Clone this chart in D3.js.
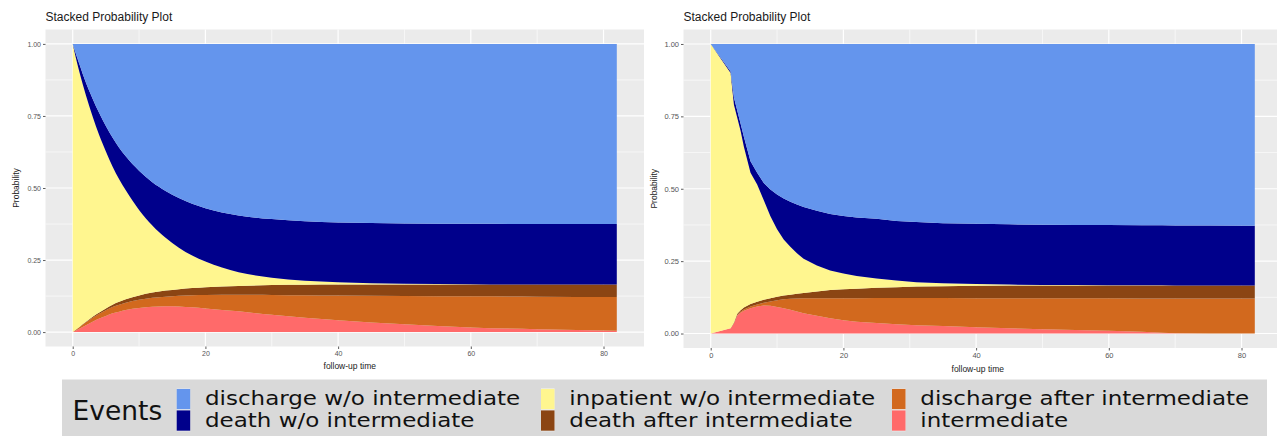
<!DOCTYPE html>
<html><head><meta charset="utf-8">
<script src="https://cdn.jsdelivr.net/npm/d3@7"></script>
<style>body{margin:0;background:#fff;} svg{display:block;}</style>
</head><body>
<svg id="chart" width="1277" height="436"></svg>
<script>
// ---- categories / styles ----
const stateKeys = ["intermediate","dischargeAfter","deathAfter","inpatient","deathWo","dischargeWo"];
const stateColors = ["#FF6A6A","#D2691E","#8B4513","#FFF68F","#00008B","#6495ED"];
const legendLabels = ["discharge w/o intermediate","death w/o intermediate","inpatient w/o intermediate","death after intermediate","discharge after intermediate","intermediate"];
const legendKeys = ["dischargeWo","deathWo","inpatient","deathAfter","dischargeAfter","intermediate"];
const xTickValues = [0,20,40,60,80];
const xMinorValues = [10,30,50,70];
const yTickValues = [0,0.25,0.5,0.75,1];
const yTickLabels = ["0.00","0.25","0.50","0.75","1.00"];
const yMinorValues = [0.125,0.375,0.625,0.875];
const panelTitle = "Stacked Probability Plot";
const xTitle = "follow-up time";
const yTitle = "Probability";
const legendTitle = "Events";

// ---- left panel (smooth model) ----
const leftTime           = [0,1,2,3,4,5,6,7,8,10,12,14,16,18,20,25,30,35,40,50,60,70,82];
const leftIntermediate   = [0,.012,.024,.036,.047,.056,.065,.071,.077,.084,.088,.09,.089,.086,.082,.072,.06,.05,.041,.027,.016,.01,.005];
const leftDischargeAfter = [0,.005,.010,.014,.017,.020,.022,.024,.025,.028,.031,.033,.037,.042,.047,.058,.069,.078,.086,.098,.108,.113,.117];
const leftDeathAfter     = [0,.001,.002,.003,.004,.006,.008,.010,.012,.015,.018,.021,.023,.025,.027,.030,.034,.036,.038,.040,.041,.042,.043];
const leftInpatient      = [1,.885,.785,.695,.615,.545,.48,.425,.378,.297,.233,.183,.144,.113,.089,.048,.026,.014,.008,.003,.001,0,0];
const leftDeathWo        = [0,.027,.044,.062,.077,.088,.1,.11,.118,.136,.15,.163,.172,.179,.185,.197,.203,.207,.207,.209,.21,.21,.21];
const leftDischargeWo    = [0,.07,.135,.19,.24,.285,.325,.36,.39,.44,.48,.51,.535,.555,.57,.595,.608,.615,.62,.623,.624,.625,.625];

// ---- right panel (empirical) ----
const rightTime           = [0,3,3.5,4,4.5,5,6,7,8,9,10,11,12,13,14,16,18,20,22,25,28,31,35,40,45,50,55,60,65,68,70,75,82];
const rightIntermediate   = [0,.018,.035,.062,.072,.079,.087,.093,.097,.096,.092,.087,.082,.076,.07,.061,.053,.046,.041,.036,.032,.029,.026,.022,.018,.015,.012,.01,.006,.003,.001,0,0];
const rightDischargeAfter = [0,0,.001,.002,.003,.004,.006,.007,.009,.015,.023,.031,.038,.045,.052,.061,.069,.076,.081,.087,.091,.094,.097,.1,.104,.107,.11,.112,.115,.118,.12,.121,.121];
const rightDeathAfter     = [0,0,.002,.004,.005,.007,.009,.01,.011,.011,.012,.013,.014,.016,.018,.023,.028,.031,.033,.035,.037,.039,.04,.043,.044,.044,.044,.044,.045,.045,.045,.045,.045];
const rightInpatient      = [1,.882,.752,.677,.62,.555,.453,.405,.343,.283,.233,.194,.166,.14,.118,.09,.068,.054,.044,.032,.023,.015,.011,.006,.003,.002,.002,.001,.001,.001,0,0,0];
const rightDeathWo        = [0,.005,.025,.025,.025,.035,.04,.04,.06,.092,.12,.141,.155,.169,.179,.189,.195,.199,.202,.206,.206,.208,.207,.208,.208,.208,.207,.208,.207,.207,.207,.207,.206];
const rightDischargeWo    = [0,.095,.185,.23,.275,.32,.405,.445,.48,.503,.52,.534,.545,.554,.563,.576,.587,.594,.599,.604,.611,.615,.619,.621,.623,.624,.625,.625,.626,.626,.627,.627,.628];

function buildRows(time, arrs){
  return time.map((t,i)=>{
    const r={t};
    stateKeys.forEach((k,j)=>{ r[k]=arrs[j][i]; });
    return r;
  });
}
const leftRows = buildRows(leftTime,[leftIntermediate,leftDischargeAfter,leftDeathAfter,leftInpatient,leftDeathWo,leftDischargeWo]);
const rightRows = buildRows(rightTime,[rightIntermediate,rightDischargeAfter,rightDeathAfter,rightInpatient,rightDeathWo,rightDischargeWo]);
const colorOf = d3.scaleOrdinal().domain(stateKeys).range(stateColors);

const svg = d3.select("#chart");
const FONT = "'Liberation Sans', Arial, sans-serif";

function drawPanel(o){
  const g = svg.append("g");
  const xMax = d3.max(o.rows, d=>d.t);
  const x = d3.scaleLinear().domain([-0.05*xMax, 1.05*xMax]).range([o.pL, o.pR]);
  const y = d3.scaleLinear().domain([-0.05, 1.05]).range([o.pB, o.pT]);
  g.append("rect").attr("x",o.pL).attr("y",o.pT).attr("width",o.pR-o.pL).attr("height",o.pB-o.pT).attr("fill","#EBEBEB");
  const grid = g.append("g");
  grid.selectAll(".xm").data(xMinorValues).join("line").attr("class","xm")
    .attr("x1",d=>x(d)).attr("x2",d=>x(d)).attr("y1",o.pT).attr("y2",o.pB).attr("stroke","#fff").attr("stroke-width",0.6);
  grid.selectAll(".ym").data(yMinorValues).join("line").attr("class","ym")
    .attr("x1",o.pL).attr("x2",o.pR).attr("y1",d=>y(d)).attr("y2",d=>y(d)).attr("stroke","#fff").attr("stroke-width",0.6);
  grid.selectAll(".xM").data(xTickValues).join("line").attr("class","xM")
    .attr("x1",d=>x(d)).attr("x2",d=>x(d)).attr("y1",o.pT).attr("y2",o.pB).attr("stroke","#fff").attr("stroke-width",1.2);
  grid.selectAll(".yM").data(yTickValues).join("line").attr("class","yM")
    .attr("x1",o.pL).attr("x2",o.pR).attr("y1",d=>y(d)).attr("y2",d=>y(d)).attr("stroke","#fff").attr("stroke-width",1.2);
  const series = d3.stack().keys(stateKeys)(o.rows);
  const area = d3.area().x(d=>x(d.data.t)).y0(d=>y(d[0])).y1(d=>y(d[1])).curve(o.curve);
  g.append("g").selectAll("path").data(series).join("path")
    .attr("d",area).attr("fill",d=>colorOf(d.key));
  const ax = g.append("g").attr("transform",`translate(0,${o.pB})`)
    .call(d3.axisBottom(x).tickValues(xTickValues).tickSize(2.5).tickPadding(2));
  const ay = g.append("g").attr("transform",`translate(${o.pL},0)`)
    .call(d3.axisLeft(y).tickValues(yTickValues).tickFormat((d,i)=>yTickLabels[i]).tickSize(2.5).tickPadding(2));
  [ax,ay].forEach(a=>{
    a.select(".domain").remove();
    a.selectAll(".tick line").attr("stroke","#333").attr("stroke-width",0.8);
    a.selectAll(".tick text").attr("fill","#555").style("font-family",FONT).style("font-size",o.tickFont+"px");
  });
  g.append("text").attr("x",o.pL).attr("y",21).text(panelTitle)
    .style("font-family",FONT).style("font-size","12px").attr("fill","#1a1a1a");
  g.append("text").attr("x",(o.pL+o.pR)/2 + o.xTitleShift).attr("y",o.xTitleY).attr("text-anchor","middle").text(xTitle)
    .style("font-family",FONT).style("font-size","8.5px").attr("fill","#1a1a1a");
  g.append("text").attr("transform",`translate(${o.yTitleX},${(o.pT+o.pB)/2}) rotate(-90)`).attr("text-anchor","middle").text(yTitle)
    .style("font-family",FONT).style("font-size","8.5px").attr("fill","#1a1a1a");
}

drawPanel({rows:leftRows, pL:45.5, pR:644, pT:29.5, pB:346.5, curve:d3.curveMonotoneX, tickFont:7, xTitleY:368.5, xTitleShift:5, yTitleX:19});
drawPanel({rows:rightRows, pL:683.5, pR:1282, pT:29.5, pB:348, curve:d3.curveLinear, tickFont:7.5, xTitleY:371.5, xTitleShift:-5, yTitleX:657});

// ---- legend ----
const lg = svg.append("g");
lg.append("rect").attr("x",62).attr("y",379.5).attr("width",1205).attr("height",60).attr("fill","#D9D9D9");
lg.append("text").attr("x",72.5).attr("y",420).text(legendTitle)
  .style("font-family","'DejaVu Sans', sans-serif").style("font-size","26.5px").attr("fill","#111");
const colX = [176.7, 541, 892];
const rowY = [388.3, 409.8];
const labelFont = 18.6, labelStretch = 23/18.6;
legendLabels.forEach((lab,i)=>{
  const c = Math.floor(i/2), r = i%2;
  const kx = colX[c], ky = rowY[r];
  lg.append("rect").attr("x",kx).attr("y",ky).attr("width",13.5).attr("height",21.5).attr("fill","#F0F0F0");
  lg.append("rect").attr("x",kx).attr("y",ky+0.6).attr("width",13.5).attr("height",20.3).attr("fill",colorOf(legendKeys[i]));
  lg.append("text").attr("transform",`translate(${kx+28.3},${r===0?405.3:427}) scale(${labelStretch},1.06)`).text(lab)
    .style("font-family","'DejaVu Sans', sans-serif").style("font-size",labelFont+"px").attr("fill","#111");
});
</script>
</body></html>
